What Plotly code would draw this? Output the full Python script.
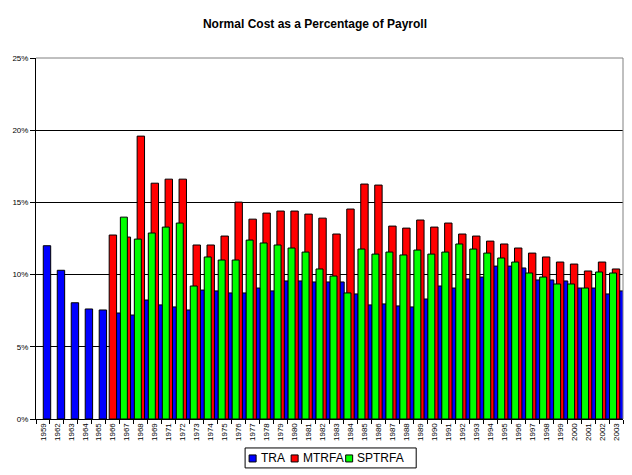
import plotly.graph_objects as go

years = ["1959", "1962", "1963", "1964", "1965", "1966", "1967", "1968", "1969",
         "1971", "1972", "1973", "1974", "1975", "1976", "1977", "1978", "1979",
         "1980", "1981", "1982", "1983", "1984", "1985", "1986", "1987", "1988",
         "1989", "1990", "1991", "1992", "1993", "1994", "1995", "1996", "1997",
         "1998", "1999", "2000", "2001", "2002", "2003"]

tra = [12.0, 10.3, 8.05, 7.62, 7.55, 7.34, 7.2, 8.24, 7.9, 7.76, 7.55, 8.93,
       8.87, 8.73, 8.73, 9.07, 8.87, 9.56, 9.56, 9.49, 9.49, 9.49, 8.66, 7.9,
       7.97, 7.83, 7.76, 8.31, 9.21, 9.07, 9.7, 9.83, 10.59, 10.59, 10.46, 9.63,
       9.63, 9.56, 9.07, 9.07, 8.66, 8.87]

mtrfa = [None, None, None, None, None, 12.74, 12.6, 19.59, 16.33, 16.61, 16.61,
         12.05, 12.05, 12.67, 15.02, 13.84, 14.26, 14.4, 14.4, 14.19, 13.91,
         12.81, 14.54, 16.27, 16.2, 13.36, 13.22, 13.78, 13.29, 13.57, 12.81,
         12.67, 12.32, 12.12, 11.84, 11.49, 11.22, 10.87, 10.73, 10.25, 10.87,
         10.39]

sptrfa = [None, None, None, None, None, None, 13.98, 12.46, 12.88, 13.29, 13.57,
          9.21, 11.22, 11.01, 11.01, 12.39, 12.19, 12.05, 11.84, 11.56, 10.39,
          9.9, 8.73, 11.77, 11.42, 11.56, 11.36, 11.7, 11.42, 11.56, 12.12,
          11.77, 11.49, 11.15, 10.87, 10.11, 9.83, 9.35, 9.35, 9.07, 10.18,
          10.11]

y_ticks = [0, 5, 10, 15, 20, 25]
y_labels = ["0%", "5%", "10%", "15%", "20%", "25%"]

series_names = ["TRA", "MTRFA", "SPTRFA"]
series_colors = ["#0000FF", "#FF0000", "#00FF00"]

# page body has an 8px margin; work in screen pixels and shift
OFF = 8
W, H = 632 - OFF, 475 - OFF
P_LEFT, P_RIGHT, P_TOP, P_BOTTOM = 36, 622.7, 58, 419.5  # screen px
ML = P_LEFT - OFF
MR = W - (P_RIGHT - OFF)
MT = P_TOP - OFF
MB = H - (P_BOTTOM - OFF)
PW, PH = W - ML - MR, H - MT - MB


def px_x(px):
    return (px - P_LEFT) / PW


def px_y(py):
    return (P_BOTTOM - py) / PH


fig = go.Figure()
offsets = [0.021, -0.264, -0.464]
widths = [0.53, 0.53, 0.5]
for name, vals, col, off, wd in zip(series_names, [tra, mtrfa, sptrfa],
                                     series_colors, offsets, widths):
    fig.add_trace(go.Bar(
        x=years, y=vals, name=name,
        marker=dict(color=col, line=dict(color="black", width=1)),
        offset=off, width=wd, showlegend=False,
    ))

fig.update_layout(
    width=W, height=H,
    margin=dict(l=ML, r=MR, t=MT, b=MB, autoexpand=False),
    paper_bgcolor="white", plot_bgcolor="white",
    barmode="overlay",
    font=dict(family="Liberation Sans, Arial, sans-serif", color="black"),
    title=dict(text="<b>Normal Cost as a Percentage of Payroll</b>",
               x=(315 - OFF) / W, xanchor="center",
               y=1 - (24 - OFF) / H, yanchor="middle",
               font=dict(size=12, color="black")),
    xaxis=dict(type="category", tickson="boundaries", ticks="outside",
               ticklen=4, tickcolor="black", tickwidth=1,
               showline=True, linecolor="black", linewidth=1,
               showgrid=False, tickangle=-90, tickfont=dict(size=8),
               automargin=False, range=[-0.5, len(years) - 0.5]),
    yaxis=dict(range=[0, 25], tickmode="array", tickvals=y_ticks,
               ticktext=y_labels,
               ticks="outside", ticklen=5, tickcolor="black",
               showline=True, linecolor="black", linewidth=1,
               showgrid=True, gridcolor="black", gridwidth=1,
               zeroline=False, tickfont=dict(size=8), automargin=False),
    showlegend=False,
)

# plot area gray border (top and right)
fig.add_shape(type="line", xref="paper", yref="paper", x0=0, x1=1, y0=1, y1=1,
              line=dict(color="#808080", width=1), layer="above")
fig.add_shape(type="line", xref="paper", yref="paper", x0=1, x1=1, y0=0, y1=1,
              line=dict(color="#808080", width=1), layer="above")

# legend box
fig.add_shape(type="rect", xref="paper", yref="paper",
              x0=px_x(245), x1=px_x(416), y0=px_y(448.5), y1=px_y(468.5),
              line=dict(color="black", width=1), fillcolor="white", layer="above")
legend_sq = [249, 291, 345.5]
legend_tx = [258.5, 300.5, 355]
for name, col, sx, tx in zip(series_names, series_colors, legend_sq, legend_tx):
    fig.add_shape(type="rect", xref="paper", yref="paper",
                  x0=px_x(sx), x1=px_x(sx + 7), y0=px_y(455.5), y1=px_y(462.5),
                  line=dict(color="black", width=1), fillcolor=col, layer="above")
    fig.add_annotation(xref="paper", yref="paper", x=px_x(tx), y=px_y(459),
                       text=name, showarrow=False, xanchor="left",
                       yanchor="middle", font=dict(size=12, color="black"))

fig.write_html("out.html")
